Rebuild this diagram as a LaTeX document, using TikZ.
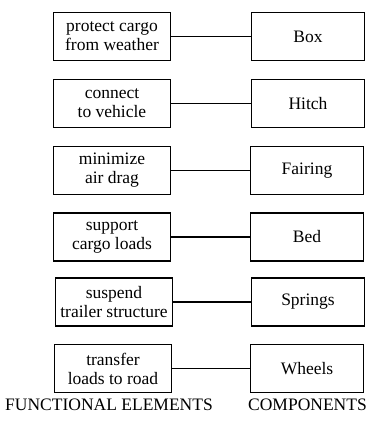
\documentclass[tikz,border=0pt]{standalone}
\usepackage{fontspec}
\setmainfont{Liberation Serif}
\begin{document}
\begin{tikzpicture}[x=1pt,y=-1pt,
  fbox/.style={draw,line width=1.3pt,minimum width=117pt,minimum height=48pt,inner sep=0pt,align=center,font=\fontsize{17.5}{19}\selectfont},
  cbox/.style={draw,line width=1.3pt,minimum width=113pt,minimum height=48pt,inner sep=0pt,align=center,font=\fontsize{17.5}{19}\selectfont},
  link/.style={line width=1.2pt},
  captext/.style={font=\fontsize{17.5}{19}\selectfont,inner sep=0pt}]
\useasboundingbox (0,0) rectangle (370,422);
\node[fbox] (f1) at (112,36.5) {protect cargo\\from weather};
\node[fbox] (f2) at (112,103.5) {connect\\to vehicle};
\node[fbox] (f3) at (112,170.5) {minimize\\air drag};
\node[fbox] (f4) at (112,237) {support\\cargo loads};
\node[fbox] (f5) at (114,302) {suspend\\trailer structure};
\node[fbox] (f6) at (113,368.5) {transfer\\loads to road};
\node[cbox] (c1) at (308,36.5) {Box};
\node[cbox] (c2) at (308,103.5) {Hitch};
\node[cbox] (c3) at (307,170.5) {Fairing};
\node[cbox] (c4) at (307,237) {Bed};
\node[cbox] (c5) at (308,302) {Springs};
\node[cbox] (c6) at (307,368.5) {Wheels};
\foreach \i in {1,...,6} \draw[link] (f\i) -- (c\i);
\node[captext] (t1) at (109,405) {FUNCTIONAL ELEMENTS};
\node[captext] (t2) at (307.5,405) {COMPONENTS};
\end{tikzpicture}
\end{document}
